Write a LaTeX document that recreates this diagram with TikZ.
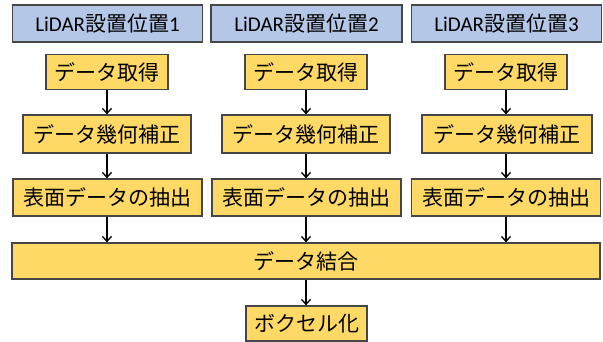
\documentclass[tikz,border=0pt]{standalone}
\usepackage{fontspec}
\setmainfont{Carlito}
\newfontfamily\jp{Noto Sans CJK JP}
\usetikzlibrary{arrows.meta}
\definecolor{hdrblue}{RGB}{180,199,231}
\definecolor{boxyel}{RGB}{255,217,102}
\definecolor{edgegray}{RGB}{70,70,70}
\begin{document}
\begin{tikzpicture}[x=1pt,y=-1pt,
  base/.style={draw=edgegray,line width=1.3pt,inner sep=0pt,anchor=center,font=\fontsize{21}{25}\selectfont},
  hdr/.style={base,fill=hdrblue,minimum height=37pt},
  ybox/.style={base,fill=boxyel},
  flow/.style={line width=1.3pt,-{Straight Barb[length=5pt,width=9pt,line width=1.3pt]}}]
\useasboundingbox (0,0) rectangle (603,342);
\node[hdr,minimum width=190pt] (h1) at (107.5,23.5) {LiDAR{\jp 設置位置}1};
\node[hdr,minimum width=191pt] (h2) at (306.5,23.5) {LiDAR{\jp 設置位置}2};
\node[hdr,minimum width=190pt] (h3) at (506.5,23.5) {LiDAR{\jp 設置位置}3};
\node[ybox,minimum width=122pt,minimum height=35pt] (a1) at (107,72) {\jp データ取得};
\node[ybox,minimum width=122pt,minimum height=35pt] (a2) at (306,72) {\jp データ取得};
\node[ybox,minimum width=122pt,minimum height=35pt] (a3) at (506,72) {\jp データ取得};
\node[ybox,minimum width=168pt,minimum height=38pt] (c1) at (107,134) {\jp データ幾何補正};
\node[ybox,minimum width=168pt,minimum height=38pt] (c2) at (306,134) {\jp データ幾何補正};
\node[ybox,minimum width=170pt,minimum height=38pt] (c3) at (507,134) {\jp データ幾何補正};
\node[ybox,minimum width=189pt,minimum height=37pt] (e1) at (107.5,197.5) {\jp 表面データの抽出};
\node[ybox,minimum width=189pt,minimum height=37pt] (e2) at (306.5,197.5) {\jp 表面データの抽出};
\node[ybox,minimum width=189pt,minimum height=37pt] (e3) at (506,197.5) {\jp 表面データの抽出};
\node[ybox,minimum width=588pt,minimum height=36pt] (m) at (306,261) {\jp データ結合};
\node[ybox,minimum width=121pt,minimum height=35pt] (v) at (306.5,323.5) {\jp ボクセル化};
\foreach \i in {1,2,3}{
  \draw[flow] (a\i.south) -- (c\i.north -| a\i.south);
  \draw[flow] (c\i.south -| a\i.south) -- (e\i.north -| a\i.south);
  \draw[flow] (e\i.south -| a\i.south) -- (m.north -| a\i.south);
}
\draw[flow] (m.south -| a2.south) -- (v.north -| a2.south);
\end{tikzpicture}
\end{document}
